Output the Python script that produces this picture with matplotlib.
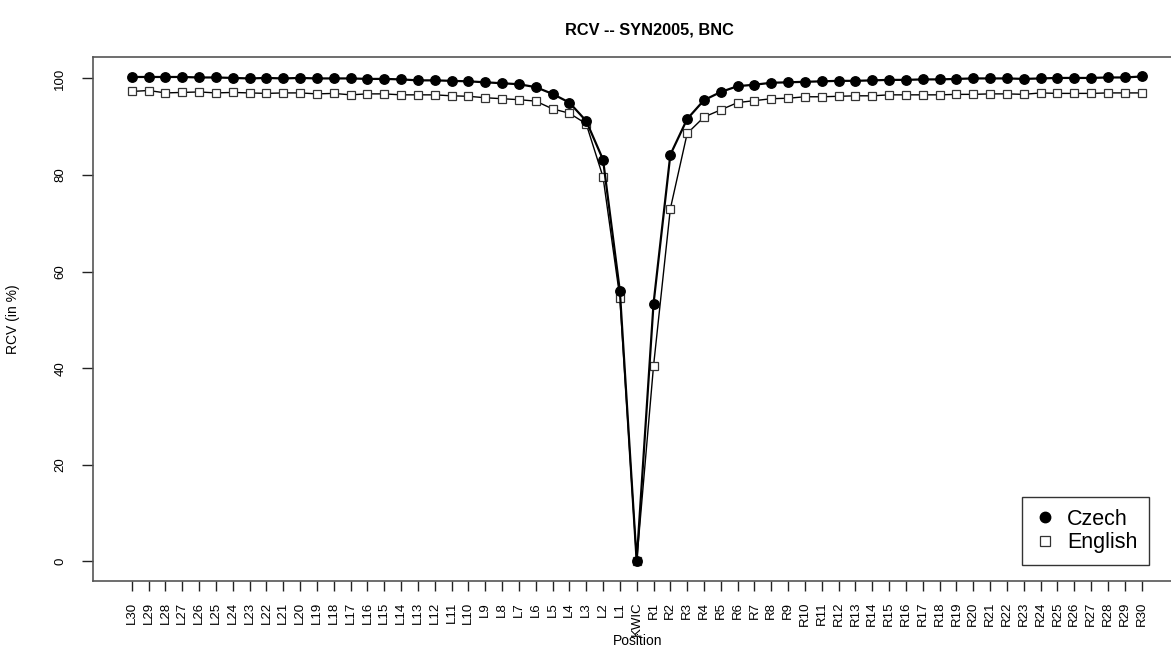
import matplotlib
matplotlib.use("Agg")
import matplotlib.pyplot as plt
from matplotlib.lines import Line2D

plt.rcParams['font.family'] = ['Liberation Sans', 'DejaVu Sans']

positions = ['L%d' % i for i in range(30, 0, -1)] + ['KWIC'] + ['R%d' % i for i in range(1, 31)]

czech = [100.3, 100.3, 100.3, 100.3, 100.2, 100.2, 100.1, 100.0, 100.1, 100.0,
         100.1, 100.0, 100.0, 100.0, 99.9, 99.9, 99.8, 99.6, 99.6, 99.5,
         99.4, 99.2, 99.0, 98.8, 98.2, 96.8, 95.0, 91.2, 83.2, 56.0,
         0.0,
         53.3, 84.2, 91.6, 95.5, 97.2, 98.4, 98.7, 99.1, 99.2, 99.3,
         99.4, 99.5, 99.5, 99.6, 99.7, 99.7, 99.8, 99.8, 99.9, 100.0,
         100.0, 100.0, 99.9, 100.0, 100.1, 100.1, 100.1, 100.2, 100.2, 100.4]

english = [97.3, 97.5, 97.0, 97.1, 97.2, 97.0, 97.1, 97.0, 96.9, 97.0,
           97.0, 96.8, 96.9, 96.6, 96.8, 96.8, 96.6, 96.6, 96.6, 96.4,
           96.3, 96.0, 95.8, 95.6, 95.3, 93.7, 92.8, 90.6, 79.6, 54.6,
           0.0,
           40.4, 73.0, 88.6, 92.0, 93.5, 95.0, 95.4, 95.8, 95.9, 96.2,
           96.2, 96.3, 96.4, 96.4, 96.6, 96.6, 96.6, 96.6, 96.7, 96.7,
           96.8, 96.8, 96.7, 97.0, 96.9, 96.9, 96.9, 97.0, 97.0, 97.0]

series_names = ['Czech', 'English']
title = 'RCV -- SYN2005, BNC'
xlabel = 'Position'
ylabel = 'RCV (in %)'
yticks = [0, 20, 40, 60, 80, 100]

W, H = 1171, 649
fig = plt.figure(figsize=(W / 100, H / 100), dpi=100)
left_px, right_px, top_px, bot_px = 92.7, 1182.0, 56.7, 581.0
ax = fig.add_axes([left_px / W, 1 - bot_px / H, (right_px - left_px) / W, (bot_px - top_px) / H])

x = list(range(len(positions)))
ax.plot(x, english, color='black', lw=1.0, marker='s', ms=5.2, mfc='white', mec='#333333', mew=0.9, zorder=3)
ax.plot(x, czech, color='black', lw=1.6, marker='o', ms=6.8, mfc='black', mec='black', zorder=4)

ax.set_xlim(-2.32, 62.4)
ax.set_ylim(-4.08, 104.5)

ax.set_xticks(x)
ax.set_xticklabels(positions, rotation=90, fontsize=9.5)
ax.set_yticks(yticks)
ax.set_yticklabels([str(v) for v in yticks], rotation=90, va='center', fontsize=9.5)
ax.tick_params(axis='x', length=7, width=1, pad=8, color='#222222')
ax.tick_params(axis='y', length=8, width=1, pad=11, color='#222222')

for s in ax.spines.values():
    s.set_color('#555555')
    s.set_linewidth(1.2)

fig.text(649 / W, 1 - 30 / H, title, ha='center', va='center', fontsize=11.8, fontweight='bold')
fig.text(637.5 / W, 1 - 641 / H, xlabel, ha='center', va='center', fontsize=10)
fig.text(13 / W, 1 - 319 / H, ylabel, ha='center', va='center', rotation=90, fontsize=10)

handles = [Line2D([], [], ls='none', marker='o', ms=7.5, mfc='black', mec='black'),
           Line2D([], [], ls='none', marker='s', ms=6.5, mfc='white', mec='#333333', mew=0.9)]
leg = fig.legend(handles, series_names, loc='lower right',
                 bbox_to_anchor=(1149 / W, 1 - 565 / H), bbox_transform=fig.transFigure,
                 fontsize=15.5, frameon=True, fancybox=False, borderaxespad=0,
                 handlelength=1.1, handletextpad=0.45, labelspacing=0.1,
                 borderpad=0.55)
leg.get_frame().set_edgecolor('black')
leg.get_frame().set_linewidth(1.0)

fig.savefig('out.png', dpi=100)
